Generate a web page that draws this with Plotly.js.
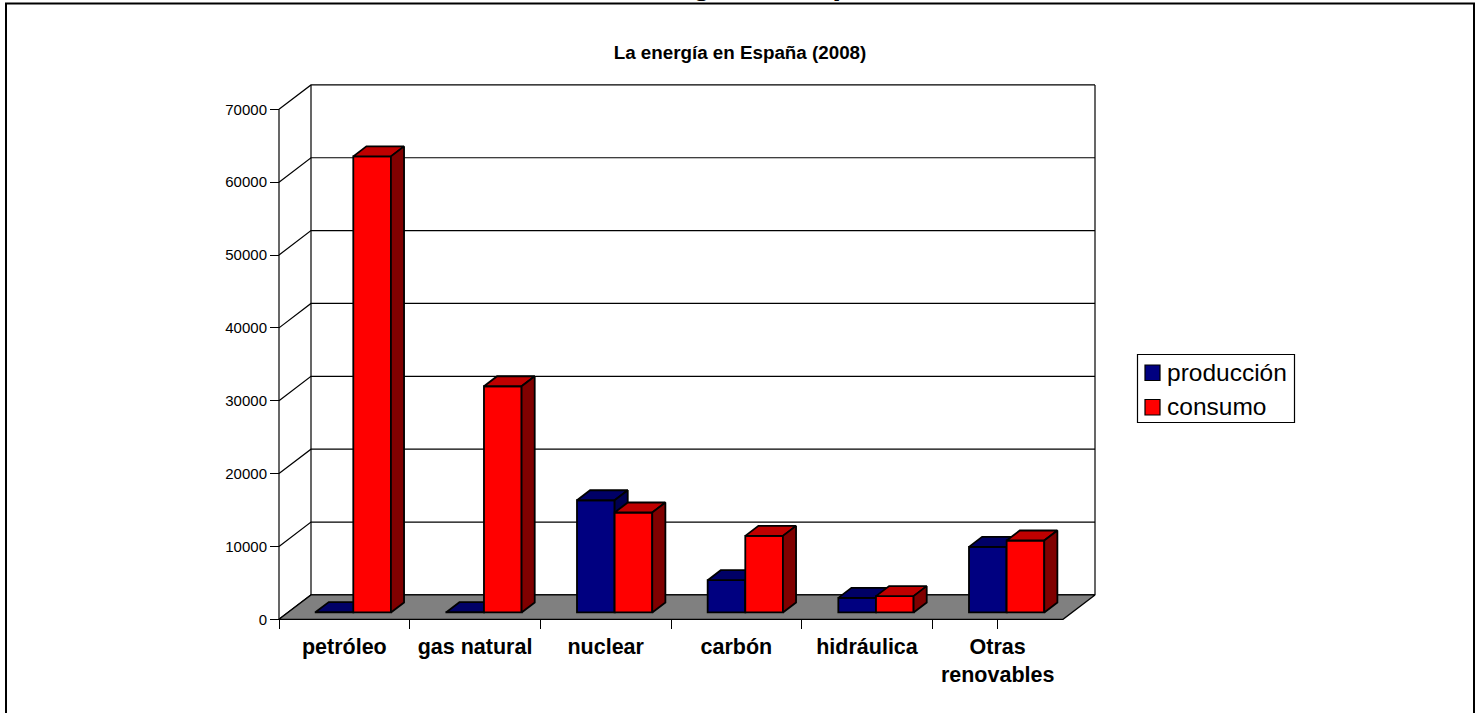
<!DOCTYPE html>
<html>
<head>
<meta charset="utf-8">
<script src="https://cdn.plot.ly/plotly-3.0.1.min.js"></script>
<style>html,body{margin:0;padding:0;background:#fff;overflow:hidden}#chart{width:1481px;height:713px}</style>
</head>
<body>
<div id="chart"></div>
<script>
const categories = ['petróleo', 'gas natural', 'nuclear', 'carbón', 'hidráulica', 'Otras<br>renovables'];
const produccion = [60, 40, 15400, 4430, 2000, 9000];
const consumo = [62600, 31050, 13720, 10510, 2240, 9880];
const yTicks = [0, 10000, 20000, 30000, 40000, 50000, 60000, 70000];
const seriesNames = ['producción', 'consumo'];
const chartTitle = 'La energía en España (2008)';
const pageHeading = 'La energía en España';

const FONT = 'Liberation Sans, Arial, sans-serif';
// front plane of the box, in page pixels
const FL = 279, FR = 1063, FT = 109.3, FB = 619.3;
// plot area (bigger than the front plane so that the depth is not clipped)
const L = 274, R = 1102, T = 80, B = 625;
const X_MIN = -0.5, X_MAX = categories.length - 0.5, Y_MAX = 70000;
const PX_X = (FR - FL) / categories.length;     // pixels per category
const PX_Y = (FB - FT) / Y_MAX;                 // pixels per value unit
const DEPTH_X = 32 / PX_X, DEPTH_Y = 24.4 / PX_Y;
const BAR_W = 0.288, D0 = 0.28, D1 = 0.69;
const xRange = [X_MIN - (FL - L) / PX_X, X_MAX + (R - FR) / PX_X];
const yRange = [-(B - FB) / PX_Y, Y_MAX + (FT - T) / PX_Y];

const idx = categories.map((_, i) => i);
const P = (x, v, d) => [x + d * DEPTH_X, v + d * DEPTH_Y];
function poly(points) {
  const xs = [], ys = [];
  points.forEach(p => { xs.push(p[0]); ys.push(p[1]); });
  xs.push(points[0][0], null); ys.push(points[0][1], null);
  return [xs, ys];
}
function merge(list) { return [list.flatMap(a => a[0]), list.flatMap(a => a[1])]; }
function faces(values, start) {
  const tops = [], sides = [];
  values.forEach((v, i) => {
    const a = i + start, b = a + BAR_W;
    tops.push(poly([P(a, v, D0), P(b, v, D0), P(b, v, D1), P(a, v, D1)]));
    sides.push(poly([P(b, 0, D0), P(b, v, D0), P(b, v, D1), P(b, 0, D1)]));
  });
  return { top: merge(tops), side: merge(sides) };
}
function polyTrace(d, fill, xa, ya, w) {
  return { type: 'scatter', mode: 'lines', x: d[0], y: d[1], xaxis: xa, yaxis: ya,
    fill: fill ? 'toself' : 'none', fillcolor: fill || undefined,
    line: { color: '#000', width: w }, hoverinfo: 'skip', showlegend: false };
}

// walls and floor (main subplot)
const wall = [];
yTicks.forEach(v => {
  const a = P(X_MIN, v, 0), b = P(X_MIN, v, 1), c = P(X_MAX, v, 1);
  wall.push([[a[0], b[0], c[0], null], [a[1], b[1], c[1], null]]);
});
[X_MIN, X_MAX].forEach(x => {
  wall.push([[P(x, 0, 1)[0], P(x, Y_MAX, 1)[0], null], [P(x, 0, 1)[1], P(x, Y_MAX, 1)[1], null]]);
});
wall.push([[X_MIN, X_MIN, null], [0, Y_MAX, null]]);
const floor = poly([P(X_MIN, 0, 0), P(X_MAX, 0, 0), P(X_MAX, 0, 1), P(X_MIN, 0, 1)]);

const blue = faces(produccion, -BAR_W);
const red = faces(consumo, 0);

function bar(name, values, offset, color, xa, ya) {
  return { type: 'bar', name, x: idx.map(i => i + D0 * DEPTH_X), y: values,
    base: values.map(() => D0 * DEPTH_Y), width: BAR_W, offset,
    xaxis: xa, yaxis: ya,
    marker: { color, line: { color: '#000', width: 1.8 } }, showlegend: false };
}

const data = [
  polyTrace(merge(wall), null, 'x', 'y', 1.2),
  polyTrace(floor, '#808080', 'x', 'y', 1.3),
  bar(seriesNames[0], produccion, -BAR_W, '#000080', 'x2', 'y2'),
  polyTrace(blue.top, '#000066', 'x2', 'y2', 1.8),
  polyTrace(blue.side, '#000050', 'x2', 'y2', 1.8),
  bar(seriesNames[1], consumo, 0, '#ff0000', 'x3', 'y3'),
  polyTrace(red.top, '#bf0000', 'x3', 'y3', 1.8),
  polyTrace(red.side, '#800000', 'x3', 'y3', 1.8)
];

const fx = px => (px - L) / (R - L);
const fy = py => (B - py) / (B - T);
const rect = (x0, y0, x1, y1, fill, w) => ({ type: 'rect', xref: 'paper', yref: 'paper',
  x0: fx(x0), x1: fx(x1), y0: fy(y0), y1: fy(y1), fillcolor: fill, line: { color: '#000', width: w }, layer: 'above' });
const txt = (text, x, y, size) => ({ text, xref: 'paper', yref: 'paper', x: fx(x), y: fy(y), xanchor: 'left', yanchor: 'middle',
  showarrow: false, font: { family: FONT, size, color: '#000' } });

const hiddenX = { range: xRange, overlaying: 'x', visible: false, fixedrange: true };
const hiddenY = { range: yRange, overlaying: 'y', visible: false, fixedrange: true };

const layout = {
  width: 1481, height: 713,
  margin: { l: L, r: 1481 - R, t: T, b: 713 - B, pad: 0 },
  paper_bgcolor: '#fff', plot_bgcolor: 'rgba(0,0,0,0)',
  showlegend: false, barmode: 'overlay',
  title: { text: '<b>' + chartTitle + '</b>', x: 740 / 1481, xanchor: 'center', y: 1 - 52 / 713, yanchor: 'middle',
    font: { family: FONT, size: 18.8, color: '#000' } },
  xaxis: { range: xRange, anchor: 'free', position: fy(FB), tickmode: 'array', tickvals: idx, ticktext: categories.map(c => '<b>' + c + '</b>'),
    ticks: '', showgrid: false, zeroline: false, showline: false,
    tickfont: { family: FONT, size: 21.5, color: '#000' }, tickangle: 0, ticklabelstandoff: 12, fixedrange: true,
    minor: { tickmode: 'array', tickvals: idx.concat([X_MAX]).map(i => i - 0.5), ticks: 'outside', ticklen: 9, tickwidth: 1, tickcolor: '#000', showgrid: false } },
  yaxis: { range: yRange, anchor: 'free', position: fx(FL), tickmode: 'array', tickvals: yTicks, ticktext: yTicks.map(String),
    ticks: 'outside', ticklen: 9, tickwidth: 1, tickcolor: '#000', showgrid: false, zeroline: false,
    showline: false, tickfont: { family: FONT, size: 15, color: '#000' }, fixedrange: true },
  xaxis2: Object.assign({ anchor: 'y2' }, hiddenX),
  yaxis2: Object.assign({ anchor: 'x2' }, hiddenY),
  xaxis3: Object.assign({ anchor: 'y3' }, hiddenX),
  yaxis3: Object.assign({ anchor: 'x3' }, hiddenY),
  shapes: [
    rect(6, 3.5, 1474, 760, 'rgba(0,0,0,0)', 2),
    rect(1137.5, 354.5, 1294.5, 422.5, '#fff', 1.2),
    rect(1145, 365, 1160, 380.5, '#000080', 1.2),
    rect(1145, 399.5, 1160, 415, '#ff0000', 1.2)
  ],
  annotations: [
    txt(seriesNames[0], 1165, 372, 24.5),
    txt(seriesNames[1], 1165, 406.5, 24.5),
    { text: '<b>' + pageHeading + '</b>', xref: 'paper', yref: 'paper', x: fx(742), y: fy(3), xanchor: 'center', yanchor: 'bottom',
      showarrow: false, font: { family: FONT, size: 32, color: '#000' } }
  ]
};
Plotly.newPlot('chart', data, layout, { displayModeBar: false, staticPlot: true });
</script>
</body>
</html>
